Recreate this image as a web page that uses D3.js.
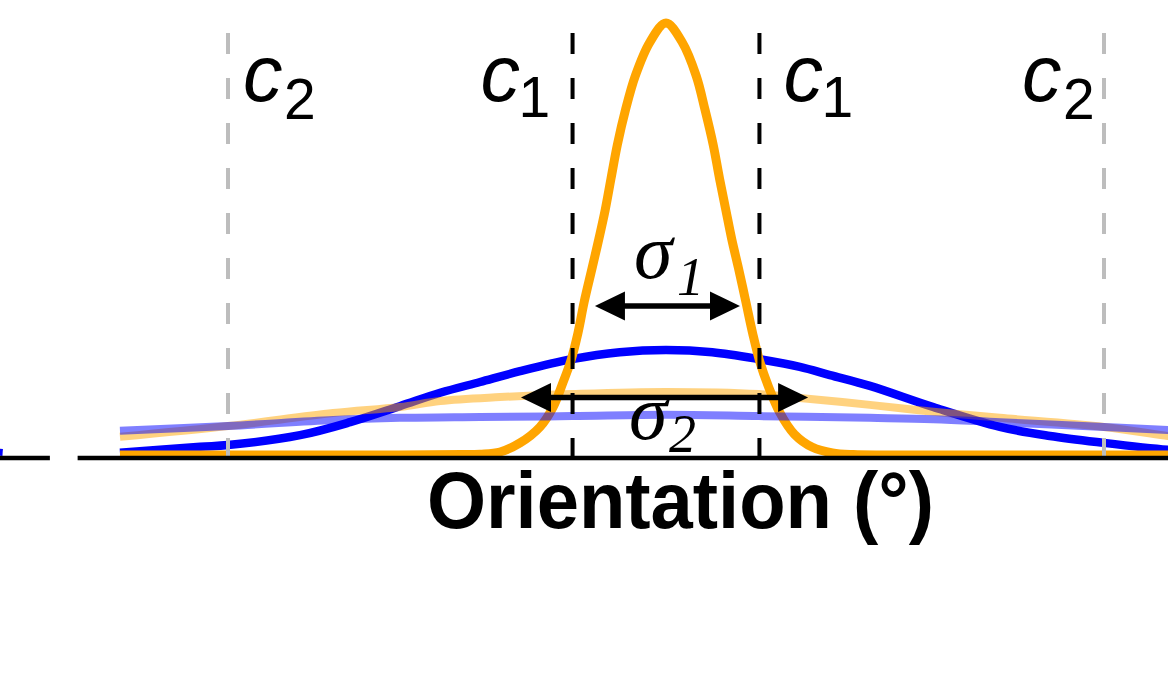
<!DOCTYPE html>
<html>
<head>
<meta charset="utf-8">
<script src="https://cdn.jsdelivr.net/npm/d3@7"></script>
<style>
  html, body { margin: 0; padding: 0; background: #fff; }
  svg { display: block; }
</style>
</head>
<body>
<svg id="chart" width="1168" height="696"></svg>
<script>
// ---------- data (orientation in degrees, normalized response) ----------
const orangeNarrow = [
  [-112.2, 0], [-80, 0], [-55, 0], [-42, 0.001], [-38.2, 0.002], [-34.1, 0.007], [-30.0, 0.028],
  [-25.9, 0.065], [-23.2, 0.111], [-21.2, 0.167], [-19.5, 0.220], [-18.1, 0.282],
  [-16.8, 0.355], [-15.2, 0.432], [-13.8, 0.500], [-12.5, 0.567], [-11.3, 0.640],
  [-10.0, 0.718], [-8.3, 0.800], [-6.3, 0.878], [-3.3, 0.956], [0, 1.0], [3.3, 0.956],
  [6.2, 0.878], [8.0, 0.800], [9.7, 0.718], [11.0, 0.640], [12.3, 0.567], [13.5, 0.500],
  [14.9, 0.432], [16.4, 0.355], [17.8, 0.282], [19.3, 0.215], [21.0, 0.160], [23.3, 0.100],
  [26.4, 0.048], [30.1, 0.018], [34.2, 0.005], [38.5, 0.001], [45, 0], [60, 0], [85, 0], [106, 0]
];
const blueBroad = [
  [-112.2, 0.005], [-95.7, 0.019], [-90, 0.023], [-75.2, 0.046], [-64.9, 0.076],
  [-54.7, 0.113], [-46.4, 0.144], [-38.2, 0.169], [-30.0, 0.194], [-19.3, 0.222],
  [-9.5, 0.238], [0, 0.243], [9.5, 0.238], [19.1, 0.222], [27.5, 0.204], [33.7, 0.185],
  [41.9, 0.160], [54.9, 0.111], [68.6, 0.065], [78.9, 0.044], [90, 0.028], [103.1, 0.012],
  [106, 0.010]
];
const orangeFlat = [
  [-112.2, 0.042], [-90, 0.067], [-68.4, 0.097], [-54.7, 0.111], [-46.4, 0.125],
  [-34.1, 0.134], [-19.3, 0.141], [0, 0.146], [19.1, 0.141], [27.5, 0.132], [41.9, 0.116],
  [54.9, 0.100], [68.6, 0.086], [90, 0.065], [103.1, 0.044], [106, 0.040]
];
const blueFlat = [
  [-112.2, 0.056], [-90, 0.067], [-68.4, 0.081], [-54.7, 0.086], [-38.2, 0.088],
  [-19.3, 0.090], [0, 0.093], [19.1, 0.090], [41.9, 0.086], [54.9, 0.083], [68.6, 0.076],
  [90, 0.065], [103.1, 0.058], [106, 0.057]
];
// tail of the neighbouring panel's curve, visible at the far left
const prevPanelBlue = [[-140, 0.009], [-136.3, 0.006]];

// reference lines (centres)
const refLines = [
  { name: "c", sub: "2", at: -90, kind: "c2" },
  { name: "c", sub: "1", at: -19.2, kind: "c1" },
  { name: "c", sub: "1", at: 19.2, kind: "c1" },
  { name: "c", sub: "2", at: 90, kind: "c2" }
];
// width arrows
const widthArrows = [
  { name: "σ", sub: "1", from: -14.6, to: 15.2, level: 0.345 },
  { name: "σ", sub: "2", from: -29.8, to: 29.2, level: 0.133 }
];
const axisSegments = [[-140, -126.6], [-120.9, 130]];
const axisTitle = "Orientation (°)";

// ---------- scales ----------
const svg = d3.select("#chart");
const x = d3.scaleLinear().domain([-90, 90]).range([228, 1104]);
const y = d3.scaleLinear().domain([0, 1]).range([455, 23]);

const line = d3.line().x(d => x(d[0])).y(d => y(d[1])).curve(d3.curveMonotoneX);
const smooth = d3.line().x(d => x(d[0])).y(d => y(d[1])).curve(d3.curveCatmullRom.alpha(0.5));

svg.append("rect").attr("width", 1168).attr("height", 696).attr("fill", "#fff");

// ---------- curves ----------
svg.append("path").datum(prevPanelBlue).attr("d", line)
  .attr("fill", "none").attr("stroke", "#0000ff").attr("stroke-width", 7);
svg.append("path").datum(blueBroad).attr("d", smooth)
  .attr("fill", "none").attr("stroke", "#0000ff").attr("stroke-width", 8.5);
svg.append("path").datum(orangeNarrow).attr("d", smooth)
  .attr("fill", "none").attr("stroke", "#ffa500").attr("stroke-width", 9)
  .attr("stroke-linejoin", "round");
svg.append("path").datum(orangeFlat).attr("d", smooth)
  .attr("fill", "none").attr("stroke", "#ffa500").attr("stroke-opacity", 0.5).attr("stroke-width", 8);
svg.append("path").datum(blueFlat).attr("d", smooth)
  .attr("fill", "none").attr("stroke", "#0000ff").attr("stroke-opacity", 0.5).attr("stroke-width", 8);

// ---------- dashed reference lines ----------
svg.selectAll("line.ref").data(refLines).enter().append("line")
  .attr("class", "ref")
  .attr("x1", d => x(d.at)).attr("x2", d => x(d.at))
  .attr("y1", 33).attr("y2", 459)
  .attr("stroke", d => d.kind === "c1" ? "#000" : "#bdbdbd")
  .attr("stroke-width", 4)
  .attr("stroke-dasharray", "21 24");

// labels c1 / c2
const labelOffset = [15, -92, 24, -82];
refLines.forEach((d, i) => {
  const cx = x(d.at) + labelOffset[i];
  const base = d.kind === "c2" ? 101 : 100.5;
  const subBase = d.kind === "c2" ? 119 : 117;
  const g = svg.append("g").attr("font-family", "'Liberation Sans', Arial, sans-serif").attr("fill", "#000");
  g.append("text").attr("x", cx).attr("y", base).attr("font-size", 79)
    .attr("font-style", "italic").text(d.name);
  g.append("text").attr("x", cx + (d.sub === "1" ? 38 : 41)).attr("y", subBase)
    .attr("font-size", 57).text(d.sub);
});

// ---------- arrows ----------
widthArrows.forEach((a, i) => {
  const yy = y(a.level), x0 = x(a.from), x1 = x(a.to);
  const hl = 30, hw = 14.5;
  svg.append("line").attr("x1", x0 + hl - 2).attr("x2", x1 - hl + 2)
    .attr("y1", yy).attr("y2", yy).attr("stroke", "#000").attr("stroke-width", 5.5);
  svg.append("path").attr("d", `M${x0},${yy} L${x0 + hl},${yy - hw} L${x0 + hl},${yy + hw} Z`).attr("fill", "#000");
  svg.append("path").attr("d", `M${x1},${yy} L${x1 - hl},${yy - hw} L${x1 - hl},${yy + hw} Z`).attr("fill", "#000");
  const g = svg.append("g").attr("font-family", "'Liberation Serif', 'Times New Roman', serif")
    .attr("font-style", "italic").attr("fill", "#000");
  const sx = i === 0 ? 634 : 629;
  const sb = i === 0 ? 278 : 439;
  g.append("text").attr("x", sx).attr("y", sb).attr("font-size", 78).text(a.name);
  g.append("text").attr("x", sx + (i === 0 ? 43 : 40)).attr("y", sb + (i === 0 ? 17 : 13))
    .attr("font-size", 54).text(a.sub);
});

// ---------- axis ----------
svg.selectAll("line.axis").data(axisSegments).enter().append("line")
  .attr("class", "axis")
  .attr("x1", d => x(d[0])).attr("x2", d => x(d[1]))
  .attr("y1", 458).attr("y2", 458)
  .attr("stroke", "#000").attr("stroke-width", 4.5);

svg.append("text").attr("x", 427).attr("y", 528)
  .attr("font-family", "'Liberation Sans', Arial, sans-serif")
  .attr("font-weight", "bold").attr("font-size", 80)
  .attr("textLength", 507).attr("lengthAdjust", "spacingAndGlyphs")
  .attr("fill", "#000").text(axisTitle);
</script>
</body>
</html>
